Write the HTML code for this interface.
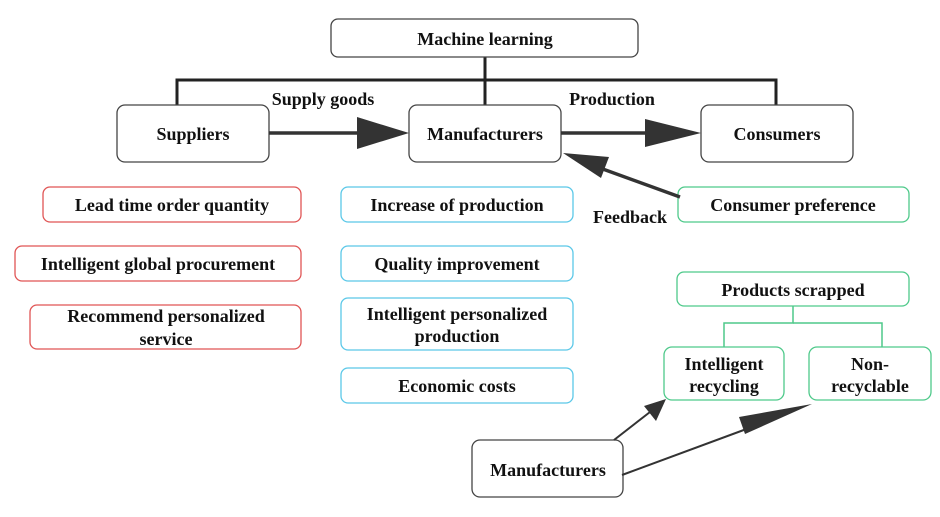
<!DOCTYPE html>
<html><head><style>
body{margin:0;background:#fff;}
svg text{font-family:"Liberation Serif",serif;font-weight:bold;font-size:18px;fill:#111;text-anchor:middle;}
</style></head><body>
<svg width="940" height="512" viewBox="0 0 940 512" xmlns="http://www.w3.org/2000/svg">
<g fill="none" stroke="#222" stroke-width="3">
<polyline points="485,57 485,105"/>
<polyline points="177,105 177,80 776,80 776,105"/>
</g>
<g fill="#fff" stroke="#444" stroke-width="1.3">
<rect x="331" y="19" width="307" height="38" rx="7"/>
<rect x="117" y="105" width="152" height="57" rx="8"/>
<rect x="409" y="105" width="152" height="57" rx="8"/>
<rect x="701" y="105" width="152" height="57" rx="8"/>
<rect x="472" y="440" width="151" height="57" rx="8"/>
</g>
<g fill="#fff" stroke="#e05555" stroke-width="1.3">
<rect x="43" y="187" width="258" height="35" rx="7"/>
<rect x="15" y="246" width="286" height="35" rx="7"/>
<rect x="30" y="305" width="271" height="44" rx="7"/>
</g>
<g fill="#fff" stroke="#5bc8e8" stroke-width="1.3">
<rect x="341" y="187" width="232" height="35" rx="7"/>
<rect x="341" y="246" width="232" height="35" rx="7"/>
<rect x="341" y="298" width="232" height="52" rx="7"/>
<rect x="341" y="368" width="232" height="35" rx="7"/>
</g>
<g fill="#fff" stroke="#4ec98a" stroke-width="1.3">
<rect x="678" y="187" width="231" height="35" rx="7"/>
<rect x="677" y="272" width="232" height="34" rx="7"/>
<rect x="664" y="347" width="120" height="53" rx="8"/>
<rect x="809" y="347" width="122" height="53" rx="8"/>
</g>
<polyline points="793,306 793,323 724,323 724,347" fill="none" stroke="#4ec98a" stroke-width="1.5"/>
<polyline points="793,323 882,323 882,347" fill="none" stroke="#4ec98a" stroke-width="1.5"/>
<g stroke="#333" stroke-width="3.5" fill="#333">
<line x1="269" y1="133" x2="360" y2="133"/>
<polygon points="357,117 409,133 357,149" stroke="none"/>
<line x1="561" y1="133" x2="648" y2="133"/>
<polygon points="645,119 701,133 645,147" stroke="none"/>
<line x1="680" y1="197" x2="600" y2="168"/>
<polygon points="563,153 609,157 601,178" stroke="none"/>
</g>
<g stroke="#333" stroke-width="2" fill="#333">
<line x1="614" y1="440" x2="650" y2="412"/>
<polygon points="666,399 656,421 644,406" stroke="none"/>
<line x1="622" y1="475" x2="760" y2="424"/>
<polygon points="812,404 745,434 739,417" stroke="none"/>
</g>
<text x="485" y="45">Machine learning</text>
<text x="193" y="140">Suppliers</text>
<text x="485" y="140">Manufacturers</text>
<text x="777" y="140">Consumers</text>
<text x="323" y="105">Supply goods</text>
<text x="612" y="105">Production</text>
<text x="630" y="223">Feedback</text>
<text x="172" y="211">Lead time order quantity</text>
<text x="158" y="270">Intelligent global procurement</text>
<text x="166" y="322">Recommend personalized</text>
<text x="166" y="345">service</text>
<text x="457" y="211">Increase of production</text>
<text x="457" y="270">Quality improvement</text>
<text x="457" y="320">Intelligent personalized</text>
<text x="457" y="342">production</text>
<text x="457" y="392">Economic costs</text>
<text x="793" y="211">Consumer preference</text>
<text x="793" y="296">Products scrapped</text>
<text x="724" y="370">Intelligent</text>
<text x="724" y="392">recycling</text>
<text x="870" y="370">Non-</text>
<text x="870" y="392">recyclable</text>
<text x="548" y="476">Manufacturers</text>
</svg>
</body></html>
